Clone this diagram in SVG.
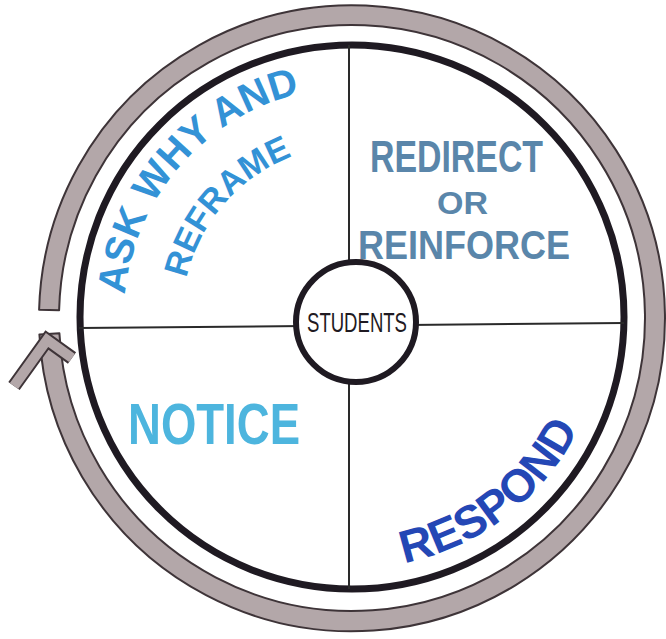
<svg xmlns="http://www.w3.org/2000/svg" width="666" height="639" viewBox="0 0 666 639">
  <style>
    .ring { fill: none; stroke: #1f1a22; stroke-width: 7; }
    .div { stroke: #2a2a2a; stroke-width: 2; fill: none; }
    .lbl { font-family: "Liberation Sans", Arial, sans-serif; font-weight: bold; }
    .band { fill: #b3a7a9; stroke: #3e3438; stroke-width: 2; stroke-linejoin: round; }
  </style>
  <defs>
    <path id="arcAsk" d="M 126.8 353.0 A 230 230 0 0 1 358.0 87.0"/>
    <path id="arcReframe" d="M 184.1 343.9 A 172 172 0 0 1 357.0 145.0"/>
    <path id="arcRespond" d="M 310.4 564.2 A 251 251 0 0 0 604.0 338.9"/>
  </defs>
  <rect width="666" height="639" fill="#ffffff"/>

  <g id="connectors">
    <g id="cycle-arrow">
      <path class="band" d="M 39.1 309.8 A 313 313 0 1 1 39.4 334.4 L 59.4 333.3 A 293 293 0 1 0 59.1 310.3 Z"/>
      <polyline points="14,386 47,340 72,358" fill="none" stroke="#3e3438" stroke-width="14" stroke-linejoin="miter" stroke-miterlimit="4"/>
      <polyline points="14,386 47,340 72,358" fill="none" stroke="#b3a7a9" stroke-width="10" stroke-linejoin="miter" stroke-miterlimit="4"/>
    </g>
  </g>

  <g id="cycle-circle">
    <circle class="ring" cx="352" cy="317" r="272"/>
    <line class="div" x1="79" y1="328" x2="624" y2="323"/>
    <line class="div" x1="349" y1="45" x2="349" y2="589"/>
  </g>

  <g id="students">
    <circle cx="356" cy="322" r="60" fill="#ffffff" stroke="#1f1a22" stroke-width="6"/>
    <text x="357" y="332" text-anchor="middle" font-family="Liberation Sans, Arial, sans-serif" font-size="28" textLength="100" lengthAdjust="spacingAndGlyphs" fill="#1f1a22">STUDENTS</text>
  </g>

  <g id="ask-why-and-reframe">
    <text class="lbl" fill="#3392d6"><textPath href="#arcAsk" startOffset="50%" text-anchor="middle" font-size="40">ASK WHY AND</textPath><textPath href="#arcReframe" startOffset="50%" text-anchor="middle" font-size="34">REFRAME</textPath></text>
  </g>

  <g id="redirect-or-reinforce">
    <text class="lbl" x="370" y="172" font-size="44" textLength="173" lengthAdjust="spacingAndGlyphs" fill="#5a86aa">REDIRECT</text>
    <text class="lbl" x="437" y="214" font-size="32" textLength="51" lengthAdjust="spacingAndGlyphs" fill="#5a86aa">OR</text>
    <text class="lbl" x="358" y="259" font-size="40" textLength="212" lengthAdjust="spacingAndGlyphs" fill="#5a86aa">REINFORCE</text>
  </g>

  <g id="notice">
    <text class="lbl" x="128" y="444" font-size="58" textLength="172" lengthAdjust="spacingAndGlyphs" fill="#4db5de">NOTICE</text>
  </g>

  <g id="respond">
    <text class="lbl" font-size="46" fill="#2447b5"><textPath href="#arcRespond" startOffset="50%" text-anchor="middle">RESPOND</textPath></text>
  </g>
</svg>
